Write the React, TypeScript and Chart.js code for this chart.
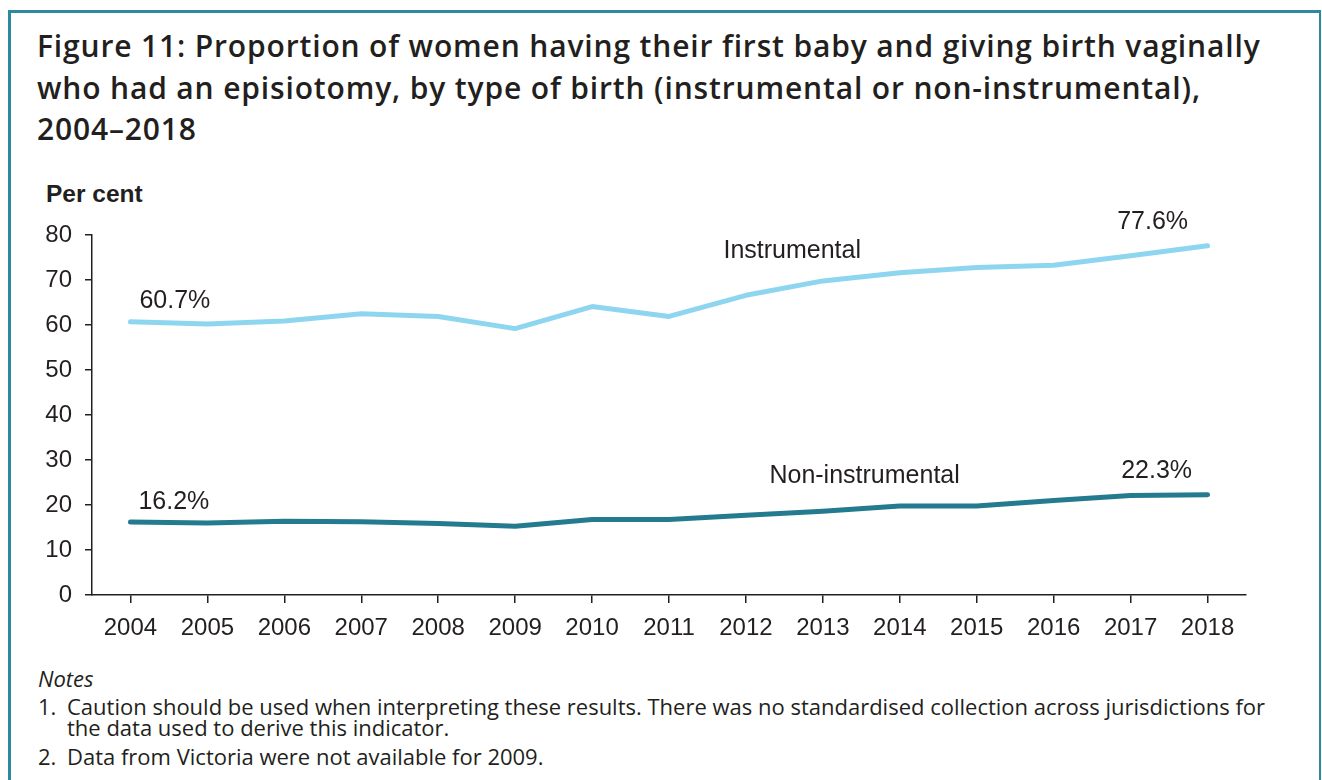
import React, { useEffect, useRef } from "react";
import { Chart, registerables } from "chart.js";

Chart.register(...registerables);

// Data
const years = ["2004", "2005", "2006", "2007", "2008", "2009", "2010", "2011", "2012", "2013", "2014", "2015", "2016", "2017", "2018"];
const instrumental = [60.7, 60.2, 60.9, 62.5, 61.9, 59.2, 64.1, 61.9, 66.6, 69.8, 71.6, 72.8, 73.3, 75.4, 77.6];
const nonInstrumental = [16.2, 16.0, 16.4, 16.3, 15.9, 15.3, 16.8, 16.8, 17.7, 18.6, 19.8, 19.8, 21.0, 22.1, 22.3];
const seriesNames = ["Instrumental", "Non-instrumental"];
const yTicks = { min: 0, max: 80, step: 10 };

const INK = "#231f20";
const LIGHT_BLUE = "#8ed6f0";
const TEAL = "#247b8f";
const BORDER = "#2d8a9e";
const CHART_FONT = "'Liberation Sans', Arial, Helvetica, sans-serif";
const TEXT_FONT = "'Open Sans', 'Noto Sans', sans-serif";

// Value labels at the ends of each line, plus the series names
const annotations = {
  id: "lineAnnotations",
  afterDatasetsDraw(chart: any) {
    const { ctx, scales } = chart;
    const x = scales.x;
    const y = scales.y;
    const m0 = chart.getDatasetMeta(0).data;
    const m1 = chart.getDatasetMeta(1).data;
    const last = years.length - 1;
    ctx.save();
    ctx.fillStyle = INK;
    ctx.textBaseline = "alphabetic";
    ctx.font = `25px ${CHART_FONT}`;

    ctx.textAlign = "left";
    ctx.fillText(`${instrumental[0].toFixed(1)}%`, m0[0].x + 9, m0[0].y - 13.5);
    ctx.fillText(`${nonInstrumental[0].toFixed(1)}%`, m1[0].x + 8, m1[0].y - 13.5);

    ctx.textAlign = "right";
    ctx.fillText(`${instrumental[last].toFixed(1)}%`, m0[last].x - 19.5, m0[last].y - 16.5);
    ctx.fillText(`${nonInstrumental[last].toFixed(1)}%`, m1[last].x - 15.5, m1[last].y - 16.5);

    ctx.textAlign = "left";
    ctx.fillText(seriesNames[0], x.getPixelForValue(8) - 22.5, y.getPixelForValue(75));
    ctx.fillText(seriesNames[1], x.getPixelForValue(8) + 23.5, y.getPixelForValue(24.8));
    ctx.restore();
  },
};

function LineChart() {
  const ref = useRef<HTMLCanvasElement | null>(null);
  useEffect(() => {
    if (!ref.current) return;
    const chart = new Chart(ref.current, {
      type: "line",
      data: {
        labels: years,
        datasets: [
          {
            label: seriesNames[0],
            data: instrumental,
            borderColor: LIGHT_BLUE,
            borderWidth: 5,
            pointRadius: 0,
            tension: 0,
            borderCapStyle: "round",
            borderJoinStyle: "round",
          },
          {
            label: seriesNames[1],
            data: nonInstrumental,
            borderColor: TEAL,
            borderWidth: 5,
            pointRadius: 0,
            tension: 0,
            borderCapStyle: "round",
            borderJoinStyle: "round",
          },
        ],
      },
      options: {
        animation: false,
        responsive: false,
        devicePixelRatio: 1,
        layout: { padding: { top: 85, right: 76, bottom: 0, left: 0 } },
        plugins: { legend: { display: false }, tooltip: { enabled: false } },
        scales: {
          x: {
            offset: true,
            grid: { drawOnChartArea: false, drawTicks: true, tickLength: 8, color: INK, lineWidth: 1.5 },
            border: { display: true, color: INK, width: 1.5 },
            ticks: {
              color: INK,
              font: { family: CHART_FONT, size: 24 },
              padding: 11,
              maxRotation: 0,
              autoSkip: false,
            },
            afterFit: (s: any) => {
              s.height = 55;
            },
          },
          y: {
            min: yTicks.min,
            max: yTicks.max,
            grid: { drawOnChartArea: false, drawTicks: true, tickLength: 7, color: INK, lineWidth: 1.5 },
            border: { display: true, color: INK, width: 1.5 },
            ticks: {
              stepSize: yTicks.step,
              color: INK,
              font: { family: CHART_FONT, size: 24 },
              padding: 13,
            },
            afterFit: (s: any) => {
              s.width = 92;
            },
          },
        },
      },
      plugins: [annotations],
    });
    return () => chart.destroy();
  }, []);
  return (
    <canvas
      ref={ref}
      width={1322}
      height={500}
      style={{ position: "absolute", left: 0, top: 150, width: 1322, height: 500 }}
    />
  );
}

export default function App() {
  const noteStyle: React.CSSProperties = {
    position: "absolute",
    left: 38,
    fontFamily: TEXT_FONT,
    fontSize: 22,
    lineHeight: "21.5px",
    color: INK,
    whiteSpace: "nowrap",
  };
  return (
    <div style={{ position: "absolute", left: 0, top: 0, width: 1322, height: 780, overflow: "hidden", background: "#fff" }}>
      <div
        style={{
          position: "absolute",
          left: 8,
          top: 10,
          width: 1313,
          height: 800,
          boxSizing: "border-box",
          borderTop: `3px solid ${BORDER}`,
          borderLeft: `3px solid ${BORDER}`,
          borderRight: `2px solid ${BORDER}`,
        }}
      />
      <div
        style={{
          position: "absolute",
          left: 37,
          top: 25,
          fontFamily: TEXT_FONT,
          fontWeight: 600,
          fontSize: 30,
          letterSpacing: "0.85px",
          lineHeight: "41.5px",
          color: INK,
          whiteSpace: "nowrap",
        }}
      >
        Figure 11: Proportion of women having their first baby and giving birth vaginally
        <br />
        who had an episiotomy, by type of birth (instrumental or non-instrumental),
        <br />
        2004–2018
      </div>
      <div
        style={{
          position: "absolute",
          left: 46,
          top: 180,
          fontFamily: CHART_FONT,
          fontWeight: 700,
          fontSize: 24.5,
          lineHeight: "28px",
          color: INK,
          whiteSpace: "nowrap",
        }}
      >
        Per cent
      </div>
      <LineChart />
      <div style={{ ...noteStyle, top: 667.5, fontStyle: "italic" }}>Notes</div>
      <div style={{ ...noteStyle, top: 695.5 }}>
        <span style={{ display: "inline-block", width: 29 }}>1.</span>
        Caution should be used when interpreting these results. There was no standardised collection across jurisdictions for
        <br />
        <span style={{ display: "inline-block", width: 29 }} />
        the data used to derive this indicator.
      </div>
      <div style={{ ...noteStyle, top: 745.5 }}>
        <span style={{ display: "inline-block", width: 29 }}>2.</span>
        Data from Victoria were not available for 2009.
      </div>
    </div>
  );
}
